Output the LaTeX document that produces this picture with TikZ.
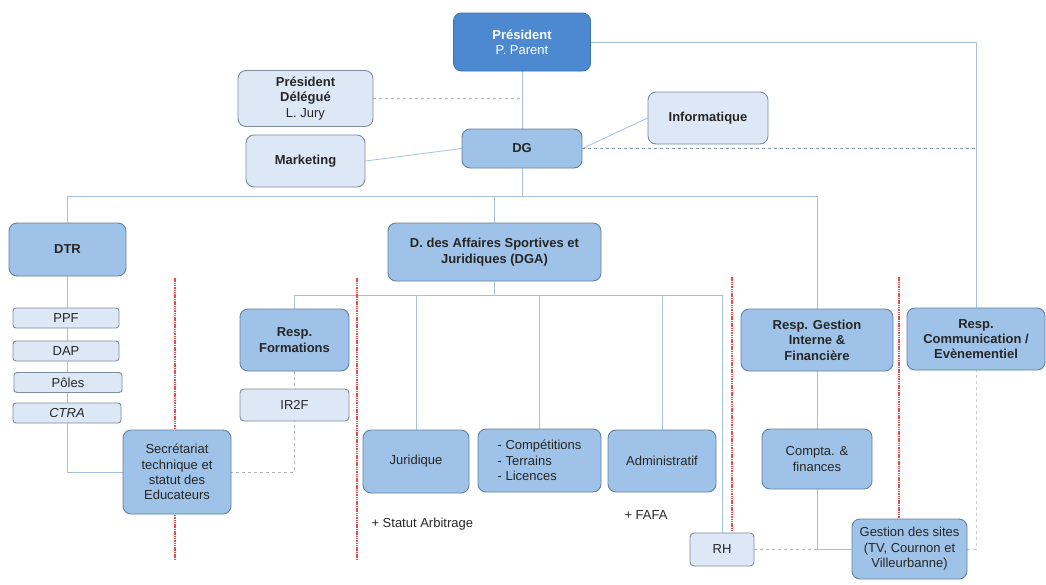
\documentclass[tikz,border=0pt]{standalone}
\usepackage{fontspec}
\setmainfont{Liberation Sans}
\usetikzlibrary{positioning,backgrounds}
\definecolor{presfill}{HTML}{4C89D0}
\definecolor{presline}{HTML}{3D72B0}
\definecolor{midfill}{HTML}{9FC3E8}
\definecolor{midline}{HTML}{62809F}
\definecolor{lightfill}{HTML}{DDE8F6}
\definecolor{lightline}{HTML}{7D8C9C}
\definecolor{linkcol}{HTML}{A6C1DE}
\definecolor{sepcol}{HTML}{F04848}

\begin{document}
\begin{tikzpicture}[x=1pt,y=-1pt,
  every node/.style={font=\fontsize{13}{15.4}\selectfont,text=black!85},
  box/.style 2 args={rounded corners=8pt,line width=0.9pt,align=center,inner sep=1pt,
    minimum width=#1,minimum height=#2},
  presbox/.style 2 args={box={#1}{#2},draw=presline,fill=presfill,text=white},
  midbox/.style 2 args={box={#1}{#2},draw=midline,fill=midfill},
  lightbox/.style 2 args={box={#1}{#2},draw=lightline,fill=lightfill},
  smallbox/.style={lightbox={106}{20},rounded corners=3pt},
  link/.style={draw=linkcol,line width=0.8pt},
  dlink/.style={draw=black!30,line width=0.8pt,dashed},
  sep/.style={draw=sepcol,line width=1.8pt,dash pattern=on 1.5pt off 0.8pt}]
  \useasboundingbox (0,0) rectangle (1046,584);

  % top
  \node[presbox={137}{58}] (pres) at (522,42) {\textbf{Président}\\P. Parent};
  \node[lightbox={135}{56}] (deleg) at (305.5,98.5) {\textbf{Président}\\\textbf{Délégué}\\L. Jury};
  \node[lightbox={119}{52}] (mkt) at (305.5,161) {\textbf{Marketing}};
  \node[midbox={120}{39}] (dg) at (522,148.5) {\textbf{DG}};
  \node[lightbox={120}{52}] (info) at (708,118) {\textbf{Informatique}};

  % directions
  \node[midbox={117}{53}] (dtr) at (67.5,249.5) {\textbf{DTR}};
  \node[midbox={213}{58}] (dga) at (494.5,252) {\textbf{D. des Affaires Sportives et}\\\textbf{Juridiques (DGA)}};
  \node[midbox={152}{62}] (gest) at (817,340) {\textbf{Resp. Gestion}\\\textbf{Interne \&}\\\textbf{Financière}};
  \node[midbox={138}{62}] (comm) at (976,339) {\textbf{Resp.}\\\textbf{Communication /}\\\textbf{Evènementiel}};

  % DTR
  \node[smallbox] (ppf) at (66,318) {PPF};
  \node[smallbox] (dap) at (66,351) {DAP};
  \node[smallbox,minimum width=108] (poles) at (68,382.5) {Pôles};
  \node[smallbox,minimum width=108] (ctra) at (67,413) {\textit{CTRA}};
  \node[midbox={108}{84}] (secr) at (177,472) {Secrétariat\\technique et\\statut des\\Educateurs};

  % DGA
  \node[midbox={109}{62}] (form) at (294.5,340) {\textbf{Resp.}\\\textbf{Formations}};
  \node[lightbox={109}{32},rounded corners=4pt] (ir2f) at (294.5,405) {IR2F};
  \node[midbox={106}{63}] (jur) at (416,461.5) {Juridique};
  \node[midbox={123}{63},align=left] (comp) at (539.5,460.5) {- Compétitions\\- Terrains\\- Licences};
  \node[midbox={108}{62}] (adm) at (662,461) {Administratif};
  \node[lightbox={64}{33},rounded corners=4pt] (rh) at (722,549.5) {RH};
  \node[anchor=west] (arb) at (368,524) {+ Statut Arbitrage};
  \node[anchor=west] (fafa) at (621,515) {+ FAFA};

  % gestion
  \node[midbox={110}{60}] (compta) at (817,459) {Compta. \&\\finances};
  \node[midbox={115}{60}] (sites) at (909.5,549) {Gestion des sites\\(TV, Cournon et\\Villeurbanne)};

  \coordinate (bus) at (817,196);
  \coordinate (subbus) at (722,295);

  \begin{scope}[on background layer]
    \draw[link] (pres.south) -- (dg.north);
    \draw[link] (dg.south) -- (dg.south |- bus);
    \draw[link] (dtr.north) |- (bus) -- (gest.north);
    \draw[link] (dga.north) -- (dga.north |- bus);
    \draw[link] (mkt.east) -- (dg.west);
    \draw[link] (dg.east) -- (info.west);
    \draw[link] (pres.east) -| (comm.north);
    \draw[dlink] (deleg.east) -- (pres.south |- deleg.east);
    \draw[dlink,draw=linkcol!80!black] (dg.east) -- (dg.east -| comm.north);
    \draw[link] (dtr.south) |- (secr.west);
    \draw[dlink] (form.south) |- (secr.east);
    \draw[link] (form.north) |- (subbus) -- (rh.north);
    \draw[link] (dga.south) -- (dga.south |- subbus);
    \draw[link] (jur.north) -- (jur.north |- subbus);
    \draw[link] (comp.north) -- (comp.north |- subbus);
    \draw[link] (adm.north) -- (adm.north |- subbus);
    \draw[link] (gest.south) -- (compta.north);
    \draw[link] (compta.south) |- (sites.west);
    \draw[dlink] (rh.east) -- (compta.south |- rh.east);
    \draw[dlink,draw=black!20] (sites.east) -| (comm.south);
    % separators
    \draw[sep] (175,278) -- (175,560);
    \draw[sep] (357,278) -- (357,560);
    \draw[sep] (732,277) -- (732,531);
    \draw[sep] (899,277) -- (899,518);
  \end{scope}
\end{tikzpicture}
\end{document}
